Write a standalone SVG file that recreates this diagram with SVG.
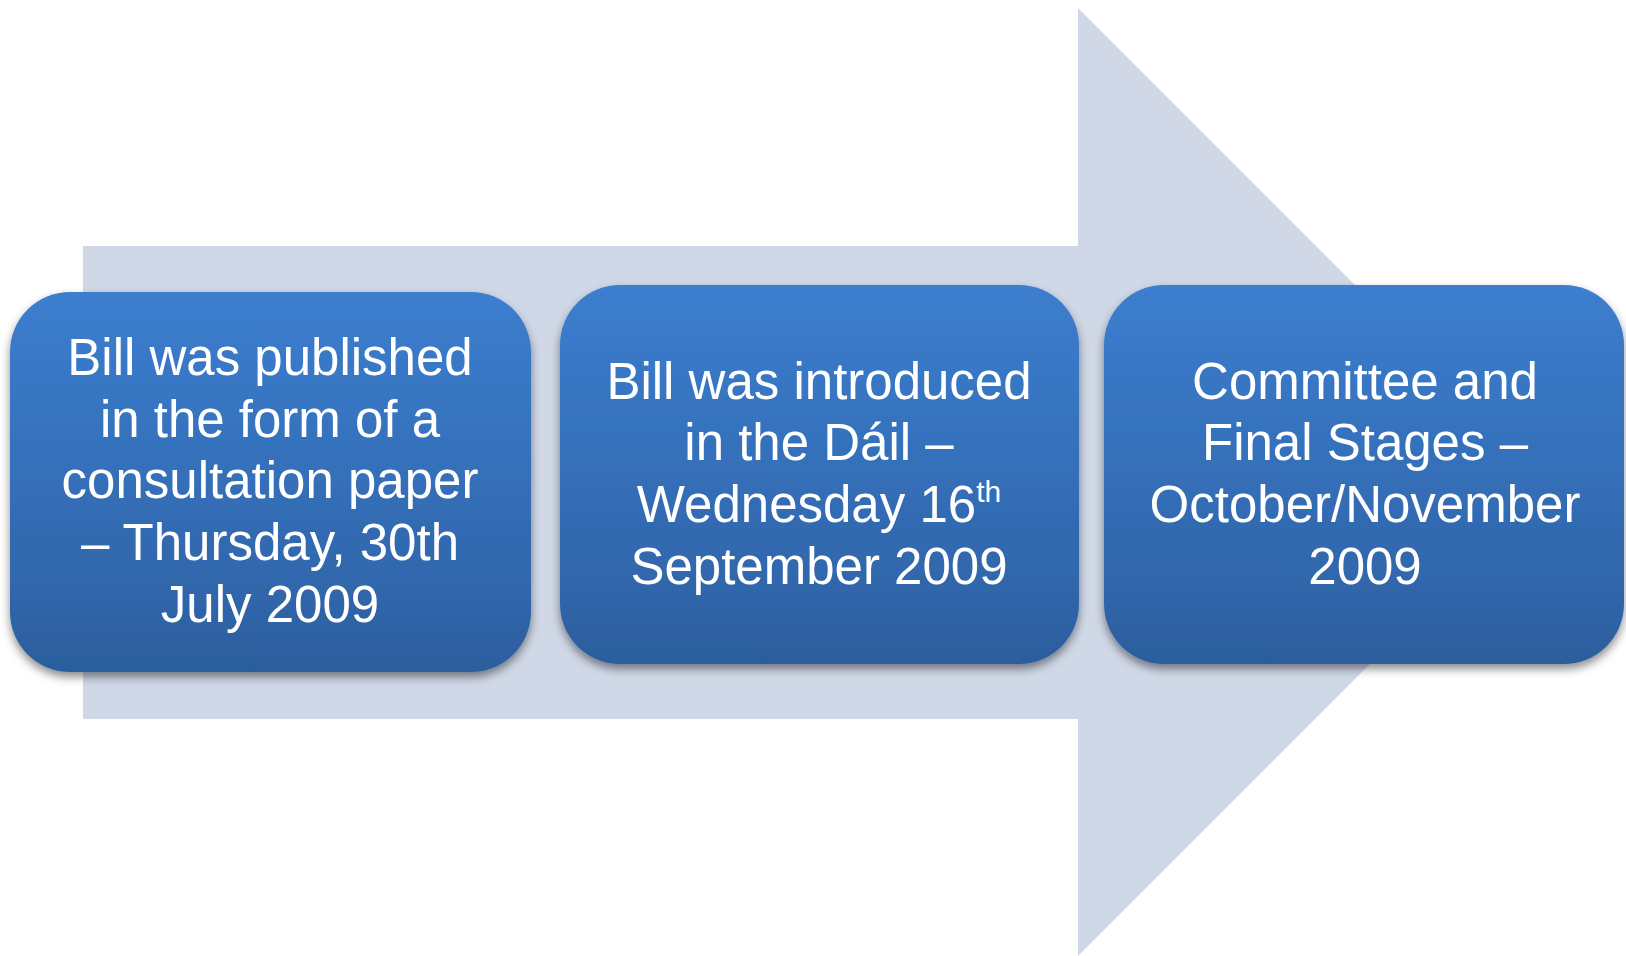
<svg xmlns="http://www.w3.org/2000/svg" width="1626" height="956" viewBox="0 0 1626 956">
  <defs>
    <linearGradient id="boxGrad" x1="0" y1="0" x2="0" y2="1">
      <stop offset="0" stop-color="#3c7ecf"/>
      <stop offset="0.85" stop-color="#2f64a8"/>
      <stop offset="1" stop-color="#2c5d9c"/>
    </linearGradient>
    <filter id="shadow" x="-10%" y="-10%" width="120%" height="125%">
      <feDropShadow dx="0" dy="5" stdDeviation="5" flood-color="#000" flood-opacity="0.45"/>
    </filter>
    <style>
      .box { fill: url(#boxGrad); filter: url(#shadow); }
      .lbl { font-family: "Liberation Sans", Arial, sans-serif; font-size: 51px; fill: #ffffff; text-anchor: middle; }
      .sup { font-size: 30px; }
      .arrow { fill: #d0d8e8; }
    </style>
  </defs>
  <rect width="1626" height="956" fill="#ffffff"/>
  <g id="arrow">
    <path class="arrow" d="M83,246 L1078,246 L1078,8 L1552,482 L1078,956 L1078,719 L83,719 Z"/>
  </g>
  <g id="node1">
    <rect class="box" x="10" y="292" width="521" height="380" rx="60" ry="60"/>
    <text class="lbl" x="270" y="375">Bill was published</text>
    <text class="lbl" x="270" y="437">in the form of a</text>
    <text class="lbl" x="270" y="498">consultation paper</text>
    <text class="lbl" x="270" y="560">– Thursday, 30th</text>
    <text class="lbl" x="270" y="622">July 2009</text>
  </g>
  <g id="node2">
    <rect class="box" x="560" y="285" width="519" height="379" rx="60" ry="60"/>
    <text class="lbl" x="819" y="399">Bill was introduced</text>
    <text class="lbl" x="819" y="460">in the Dáil –</text>
    <text class="lbl" x="819" y="522">Wednesday 16<tspan class="sup" dy="-20">th</tspan></text>
    <text class="lbl" x="819" y="584">September 2009</text>
  </g>
  <g id="node3">
    <rect class="box" x="1104" y="285" width="520" height="379" rx="60" ry="60"/>
    <text class="lbl" x="1365" y="399">Committee and</text>
    <text class="lbl" x="1365" y="460">Final Stages –</text>
    <text class="lbl" x="1365" y="522">October/November</text>
    <text class="lbl" x="1365" y="584">2009</text>
  </g>
  <g id="connectors"></g>
</svg>
